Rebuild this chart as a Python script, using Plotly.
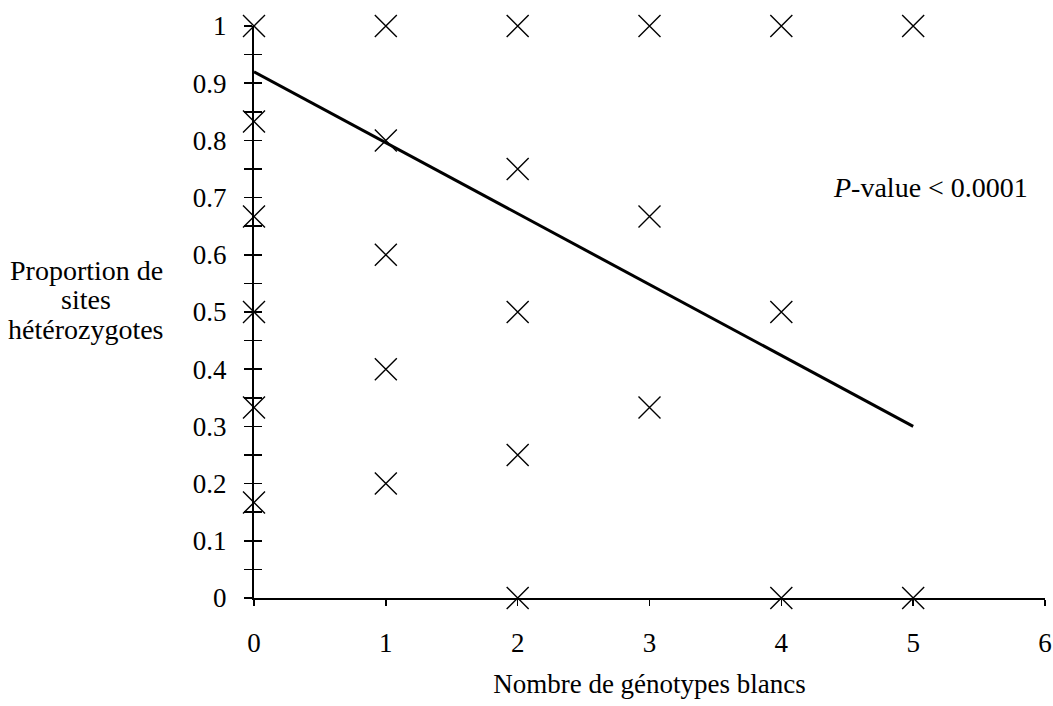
import plotly.graph_objects as go

# Data
x_vals = [0, 0, 0, 0, 0, 0,
          1, 1, 1, 1, 1,
          2, 2, 2, 2, 2,
          3, 3, 3,
          4, 4, 4,
          5, 5]
y_vals = [1.0, 0.833, 0.667, 0.5, 0.333, 0.167,
          1.0, 0.8, 0.6, 0.4, 0.2,
          1.0, 0.75, 0.5, 0.25, 0.0,
          1.0, 0.667, 0.333,
          1.0, 0.5, 0.0,
          1.0, 0.0]
fit_x = [0, 5]
fit_y = [0.92, 0.30]
x_ticks = [0, 1, 2, 3, 4, 5, 6]
y_ticks = [0, 0.1, 0.2, 0.3, 0.4, 0.5, 0.6, 0.7, 0.8, 0.9, 1]
y_tick_labels = ["0", "0.1", "0.2", "0.3", "0.4", "0.5", "0.6", "0.7", "0.8", "0.9", "1"]
y_title_lines = ["Proportion de", "sites", "hétérozygotes"]
y_title_pos = [0.572, 0.521, 0.469]

FONT = "Liberation Serif"
FS = 27
W, H = 1053, 706
L, R, T, B = 254, 8, 26, 108

fig = go.Figure()
fig.add_trace(go.Scatter(
    x=x_vals, y=y_vals, mode="markers",
    marker=dict(symbol="x-thin-open", size=22, color="black",
                line=dict(color="black", width=1.4)),
    cliponaxis=False, showlegend=False, hoverinfo="skip"))
fig.add_trace(go.Scatter(
    x=fit_x, y=fit_y, mode="lines",
    line=dict(color="black", width=3),
    cliponaxis=False, showlegend=False, hoverinfo="skip"))
# dummy trace on second y axis to hold the inside ticks
fig.add_trace(go.Scatter(x=[None], y=[None], yaxis="y2", showlegend=False))

annotations = [
    dict(text="<i>P</i>-value &lt; 0.0001", x=4.38, y=0.718, xref="x", yref="y",
         xanchor="left", yanchor="middle", showarrow=False,
         font=dict(family=FONT, size=28)),
]
for line, ypos in zip(y_title_lines, y_title_pos):
    annotations.append(dict(
        text=line, x=(86 - L) / (W - L - R), y=ypos,
        xref="paper", yref="y", showarrow=False,
        xanchor="center", yanchor="middle",
        font=dict(family=FONT, size=28)))

fig.update_layout(
    width=W, height=H,
    margin=dict(l=L, r=R, t=T, b=B, autoexpand=False),
    paper_bgcolor="white", plot_bgcolor="white",
    font=dict(family=FONT, size=FS, color="black"),
    xaxis=dict(
        range=[0, 6], tickmode="array", tickvals=x_ticks,
        ticktext=[str(v) for v in x_ticks],
        tickfont=dict(family=FONT, size=FS),
        showline=True, linecolor="black", linewidth=2,
        ticks="outside", ticklen=6, tickwidth=1.5, tickcolor="black",
        ticklabelstandoff=14,
        showgrid=False, zeroline=False, automargin=False,
        title=dict(text="Nombre de génotypes blancs", standoff=17,
                   font=dict(family=FONT, size=FS)),
    ),
    yaxis=dict(
        range=[0, 1], tickmode="array", tickvals=y_ticks, ticktext=y_tick_labels,
        tickfont=dict(family=FONT, size=FS),
        showline=True, linecolor="black", linewidth=2,
        ticks="outside", ticklen=8, tickwidth=1.5, tickcolor="black",
        minor=dict(ticks="outside", dtick=0.05, ticklen=8, tickwidth=1.5, tickcolor="black"),
        ticklabelstandoff=12,
        showgrid=False, zeroline=False, automargin=False,
    ),
    yaxis2=dict(
        range=[0, 1], overlaying="y", side="left", anchor="x",
        tickmode="linear", tick0=0, dtick=0.05,
        ticks="inside", ticklen=8, tickwidth=1.5, tickcolor="black",
        showticklabels=False, showline=False, showgrid=False, zeroline=False,
    ),
    annotations=annotations,
)

fig.write_html("out.html",
               config={"displayModeBar": False, "staticPlot": True},
               post_script="document.body.style.margin='0';document.body.style.overflow='hidden';")
